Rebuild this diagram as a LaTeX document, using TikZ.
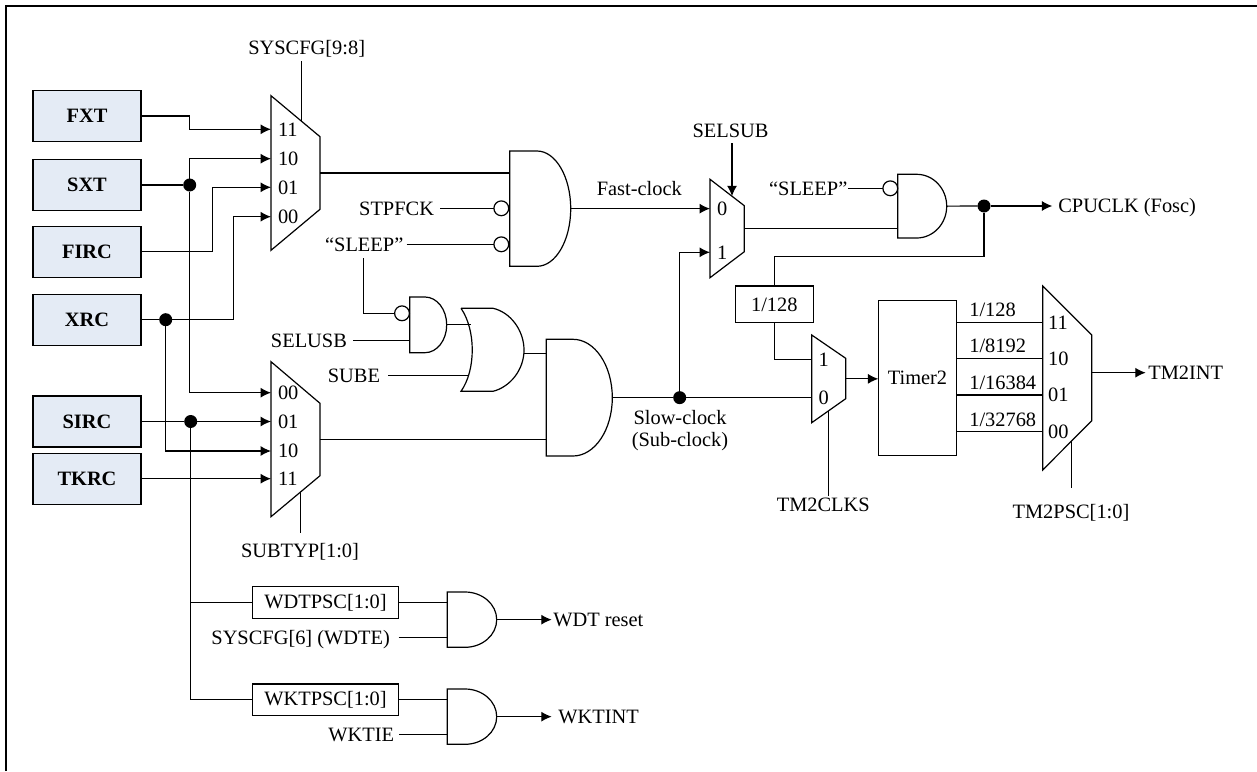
\documentclass[tikz,border=0pt]{standalone}
\usepackage{fontspec}
\setmainfont{Liberation Serif}
\usetikzlibrary{arrows.meta,fit}
\definecolor{srcblue}{HTML}{E4EBF5}

\newcommand{\muxbody}[7]{
  \draw (#2,#4) -- (#3,#5) -- (#3,#6) -- (#2,#7) -- cycle;
  \node[area, fit={(#2,#4) (#3,#7)}] (#1) {};
}
\newcommand{\andbody}[6]{
  \draw (#2,#5) -- (#3,#5) arc[start angle=-90, end angle=90, x radius={#4-#3}, y radius={(#6-#5)/2}] -- (#2,#6) -- cycle;
  \node[area, fit={(#2,#5) (#4,#6)}] (#1) {};
}

\begin{document}
\begin{tikzpicture}[x=0.5pt, y=-0.5pt, line width=0.6pt,
    >={Latex[length=5.2pt,width=5pt]},
    every node/.style={font=\fontsize{10.2}{11}\selectfont},
    area/.style={inner sep=0pt, outer sep=0pt},
    srcbox/.style={draw, fill=srcblue, minimum width=54pt, minimum height=25.5pt, font=\fontsize{10.2}{11}\selectfont\bfseries, outer sep=0pt},
    divbox/.style={draw, inner sep=0pt, outer sep=0pt},
    lab/.style={inner sep=0pt, outer sep=0pt, text height=6.7pt, text depth=0pt},
    port/.style={lab, anchor=west, inner xsep=3.5pt},
    dot/.style={circle, fill, inner sep=0pt, outer sep=0pt, minimum size=6.5pt},
    bub/.style={circle, draw, fill=white, inner sep=0pt, outer sep=0pt, minimum size=7.4pt}]
   \useasboundingbox (0,0) rectangle (1257,771);
   \draw[line width=1.15pt] (5.8,771) -- (5.8,5.8) -- (1257,5.8);

   % clock sources
   \node[srcbox] (FXT)  at (87,116)    {FXT};
   \node[srcbox] (SXT)  at (87,185)    {SXT};
   \node[srcbox] (FIRC) at (87,251.7)  {FIRC};
   \node[srcbox] (XRC)  at (87,319.7)  {XRC};
   \node[srcbox] (SIRC) at (87,421.5)  {SIRC};
   \node[srcbox] (TKRC) at (87,478.7)  {TKRC};

   % multiplexers
   \muxbody{msys}{271}{320}{95.7}{136.7}{209.3}{250.3}
   \muxbody{msub}{271}{320}{361.7}{403.3}{475.7}{516.7}
   \muxbody{msel}{710}{744.3}{179.3}{205.7}{251.7}{277.7}
   \muxbody{mclk}{811.7}{845.7}{335}{358.3}{398.7}{422.7}
   \muxbody{mpsc}{1042.7}{1091.7}{286}{335}{420.7}{470}

   \node[port] (msys11) at (271,129.3) {11};
   \node[port] (msys10) at (271,158.7) {10};
   \node[port] (msys01) at (271,187.3) {01};
   \node[port] (msys00) at (271,216.7) {00};
   \node[port] (msub00) at (271,392.7) {00};
   \node[port] (msub01) at (271,421.5) {01};
   \node[port] (msub10) at (271,451)   {10};
   \node[port] (msub11) at (271,478.7) {11};
   \node[port] (msel0)  at (710,208.65) {0};
   \node[port] (msel1)  at (710,252.3) {1};
   \node[port] (mclk1)  at (811.7,359.5) {1};
   \node[port] (mclk0)  at (811.7,397.65) {0};
   \node[port, inner xsep=2.7pt] (mpsc11) at (1042.7,322.3) {11};
   \node[port, inner xsep=2.7pt] (mpsc10) at (1042.7,358.7) {10};
   \node[port, inner xsep=2.7pt] (mpsc01) at (1042.7,395)   {01};
   \node[port, inner xsep=2.7pt] (mpsc00) at (1042.7,431.3) {00};

   % gates
   \andbody{gfast}{509.7}{537}{570.7}{151}{266.3}
   \andbody{gusb}{409.7}{425}{446.7}{297}{352.7}
   \andbody{gslow}{546.3}{573}{612.3}{339.3}{456}
   \andbody{gcpu}{897.7}{916.7}{946.7}{174.3}{238}
   \andbody{gwdt}{447.3}{465}{496.7}{592}{647.3}
   \andbody{gwkt}{447.3}{465}{496.7}{689}{744.3}
   \draw (461,308.3) -- (493,308.3) .. controls (510,312) and (524,330) .. (524,350)
         .. controls (524,370) and (510,387) .. (493,391.3) -- (461,391.3)
         .. controls (476,370) and (476,330) .. (461,308.3);
   \node[area, fit={(461,308.3) (524,391.3)}] (osub) {};
   \coordinate (osubA) at (470.7,324.85);
   \coordinate (osubB) at (469.3,375.3);

   \node[bub] (bstop)  at (501.3,208.3) {};
   \node[bub] (bsleep) at (501.3,244.3) {};
   \node[bub] (busb)   at (402,313.3)   {};
   \node[bub] (bcpu)   at (890.3,188.3) {};

   % boxes
   \node[divbox, minimum width=39pt, minimum height=18.4pt] (div128) at (774.3,304.35) {1/128};
   \node[divbox, minimum width=39.2pt, minimum height=77.5pt] (timer)  at (917.5,377.8) {Timer2};
   \node[divbox, minimum width=73.2pt, minimum height=15.8pt] (wdt)    at (325.5,602.5)  {WDTPSC[1:0]};
   \node[divbox, minimum width=73.2pt, minimum height=15.8pt] (wkt)    at (325.5,699.7)  {WKTPSC[1:0]};

   % labels
   \node[lab, inner ysep=3.3pt] (lsyscfg) at (306.7,47.7) {SYSCFG[9:8]};
   \node[lab, inner ysep=5.5pt] (lsubtyp) at (300,550.7)  {SUBTYP[1:0]};
   \node[lab, inner ysep=2.7pt] (lselsub) at (730.5,131)  {SELSUB};
   \node[lab, inner ysep=1pt]   (ltmclks) at (823.3,504.3) {TM2CLKS};
   \node[lab, inner ysep=8.6pt] (ltmpsc)  at (1071,511.7) {TM2PSC[1:0]};
   \node[lab, anchor=east, inner xsep=3pt]    (lstop)   at (440,208.3)   {STPFCK};
   \node[lab, anchor=east, inner xsep=1.7pt]  (lsleepa) at (406.7,244.3) {“SLEEP”};
   \node[lab, anchor=east, inner xsep=3.2pt]  (lselusb) at (353.3,340.3) {SELUSB};
   \node[lab, anchor=east, inner xsep=4pt]    (lsube)   at (388,375.3)   {SUBE};
   \node[lab, anchor=east, inner xsep=0.5pt]  (lsleepb) at (848.3,188.3) {“SLEEP”};
   \node[lab, anchor=east, inner xsep=4.4pt]  (lwdte)   at (398.7,637.7) {SYSCFG[6] (WDTE)};
   \node[lab, anchor=east, inner xsep=2.6pt]  (lwktie)  at (399.3,734.3) {WKTIE};
   \node[lab] (lfast) at (639.3,188.3) {Fast-clock};
   \node[align=center, inner sep=0pt] (lslow) at (680,431) {Slow-clock\\(Sub-clock)};
   \node[lab, anchor=west] (lr128)   at (969.3,309.3) {1/128};
   \node[lab, anchor=west] (lr8192)  at (969.3,345.7) {1/8192};
   \node[lab, anchor=west] (lr16384) at (969.3,382.3) {1/16384};
   \node[lab, anchor=west] (lr32768) at (969.3,419.3) {1/32768};
   \node[lab, anchor=west, inner xsep=3pt]   (lcpu)  at (1052.3,206)  {CPUCLK (Fosc)};
   \node[lab, anchor=west, inner xsep=1.3pt] (ltmint) at (1145.7,372.7) {TM2INT};
   \node[lab, anchor=west, inner xsep=0.8pt] (lwdtr) at (551.7,619.65) {WDT reset};
   \node[lab, anchor=west, inner xsep=3.3pt] (lwkti) at (551.7,716.65) {WKTINT};

   % junctions
   \node[dot] (dsxt)  at (189.7,185)   {};
   \node[dot] (dxrc)  at (165.7,319.7) {};
   \node[dot] (dsirc) at (190.7,421.5) {};
   \node[dot] (dslow) at (679.7,397.65) {};
   \node[dot] (dcpu)  at (984,206)     {};

   % select lines end on the slanted edges
   \coordinate (msyssel) at (301.3,120.8);
   \coordinate (msubsel) at (300.3,492.2);
   \coordinate (mselsel) at (732,196.2);
   \coordinate (mclksel) at (828.7,410.7);
   \coordinate (mpscsel) at (1071.3,441.2);
   \coordinate (sleepdrop) at (363.7,258);

   \draw[->] (FXT.east) -- (FXT.east -| dsxt) |- (msys11.west);
   \draw (SXT.east) -- (dsxt);
   \draw[->] (dsxt) |- (msys10.west);
   \draw[->] (dsxt) |- (msub00.west);
   \draw[->] (FIRC.east) -- ++(71.7,0) |- (msys01.west);
   \draw (XRC.east) -- (dxrc);
   \draw[->] (dxrc) -- ++(68,0) |- (msys00.west);
   \draw[->] (dxrc) |- (msub10.west);
   \draw (SIRC.east) -- (dsirc);
   \draw[->] (dsirc) -- (msub01.west);
   \draw[->] (TKRC.east) -- (msub11.west);
   \draw (dsirc) |- (wkt.west);
   \draw (dsirc |- wdt.west) -- (wdt.west);

   \draw (msyssel) -- (msyssel |- lsyscfg.south);
   \draw (msubsel) -- (msubsel |- lsubtyp.north);
   \draw[->] (mselsel |- lselsub.south) -- (mselsel);
   \draw (mclksel) -- (mclksel |- ltmclks.north);
   \draw (mpscsel) -- (mpscsel |- ltmpsc.north);

   \draw (msys.east) -- (msys.east -| gfast.west);
   \draw (lstop.east) -- (bstop);
   \draw (lsleepa.east) -- (bsleep);
   \draw (sleepdrop) |- (busb);
   \draw (lselusb.east) -- (lselusb.east -| gusb.west);
   \draw (gusb.east) -- (osubA);
   \draw (lsube.east) -- (osubB);
   \draw ([yshift=-2pt]osub.east) -- ([yshift=-2pt]osub.east -| gslow.west);
   \draw (msub.east) -- (msub.east -| gslow.west);
   \draw[->] (gfast.east) -- (msel0.west);
   \draw (gslow.east) -- (dslow);
   \draw (dslow) -- (mclk0.west);
   \draw[->] (dslow) |- (msel1.west);
   \draw (msel.east) -- (msel.east -| gcpu.west);
   \draw (lsleepb.east) -- (bcpu);
   \draw (gcpu.east) -- (dcpu);
   \draw[->] (dcpu) -- (lcpu.west);
   \draw (dcpu) -- ++(0,50.7) -| (div128.north);
   \draw (div128.south) |- (mclk1.west);
   \draw[->] (mclk.east) -- (mclk.east -| timer.west);
   \draw (timer.east |- mpsc11.west) -- (mpsc11.west);
   \draw (timer.east |- mpsc10.west) -- (mpsc10.west);
   \draw (timer.east |- mpsc01.west) -- (mpsc01.west);
   \draw (timer.east |- mpsc00.west) -- (mpsc00.west);
   \draw[->] (mpsc.east |- ltmint.west) -- (ltmint.west);

   \draw (wdt.east) -- (wdt.east -| gwdt.west);
   \draw (lwdte.east) -- (lwdte.east -| gwdt.west);
   \draw[->] (gwdt.east) -- (lwdtr.west);
   \draw (wkt.east) -- (wkt.east -| gwkt.west);
   \draw (lwktie.east) -- (lwktie.east -| gwkt.west);
   \draw[->] (gwkt.east) -- (lwkti.west);
\end{tikzpicture}
\end{document}
